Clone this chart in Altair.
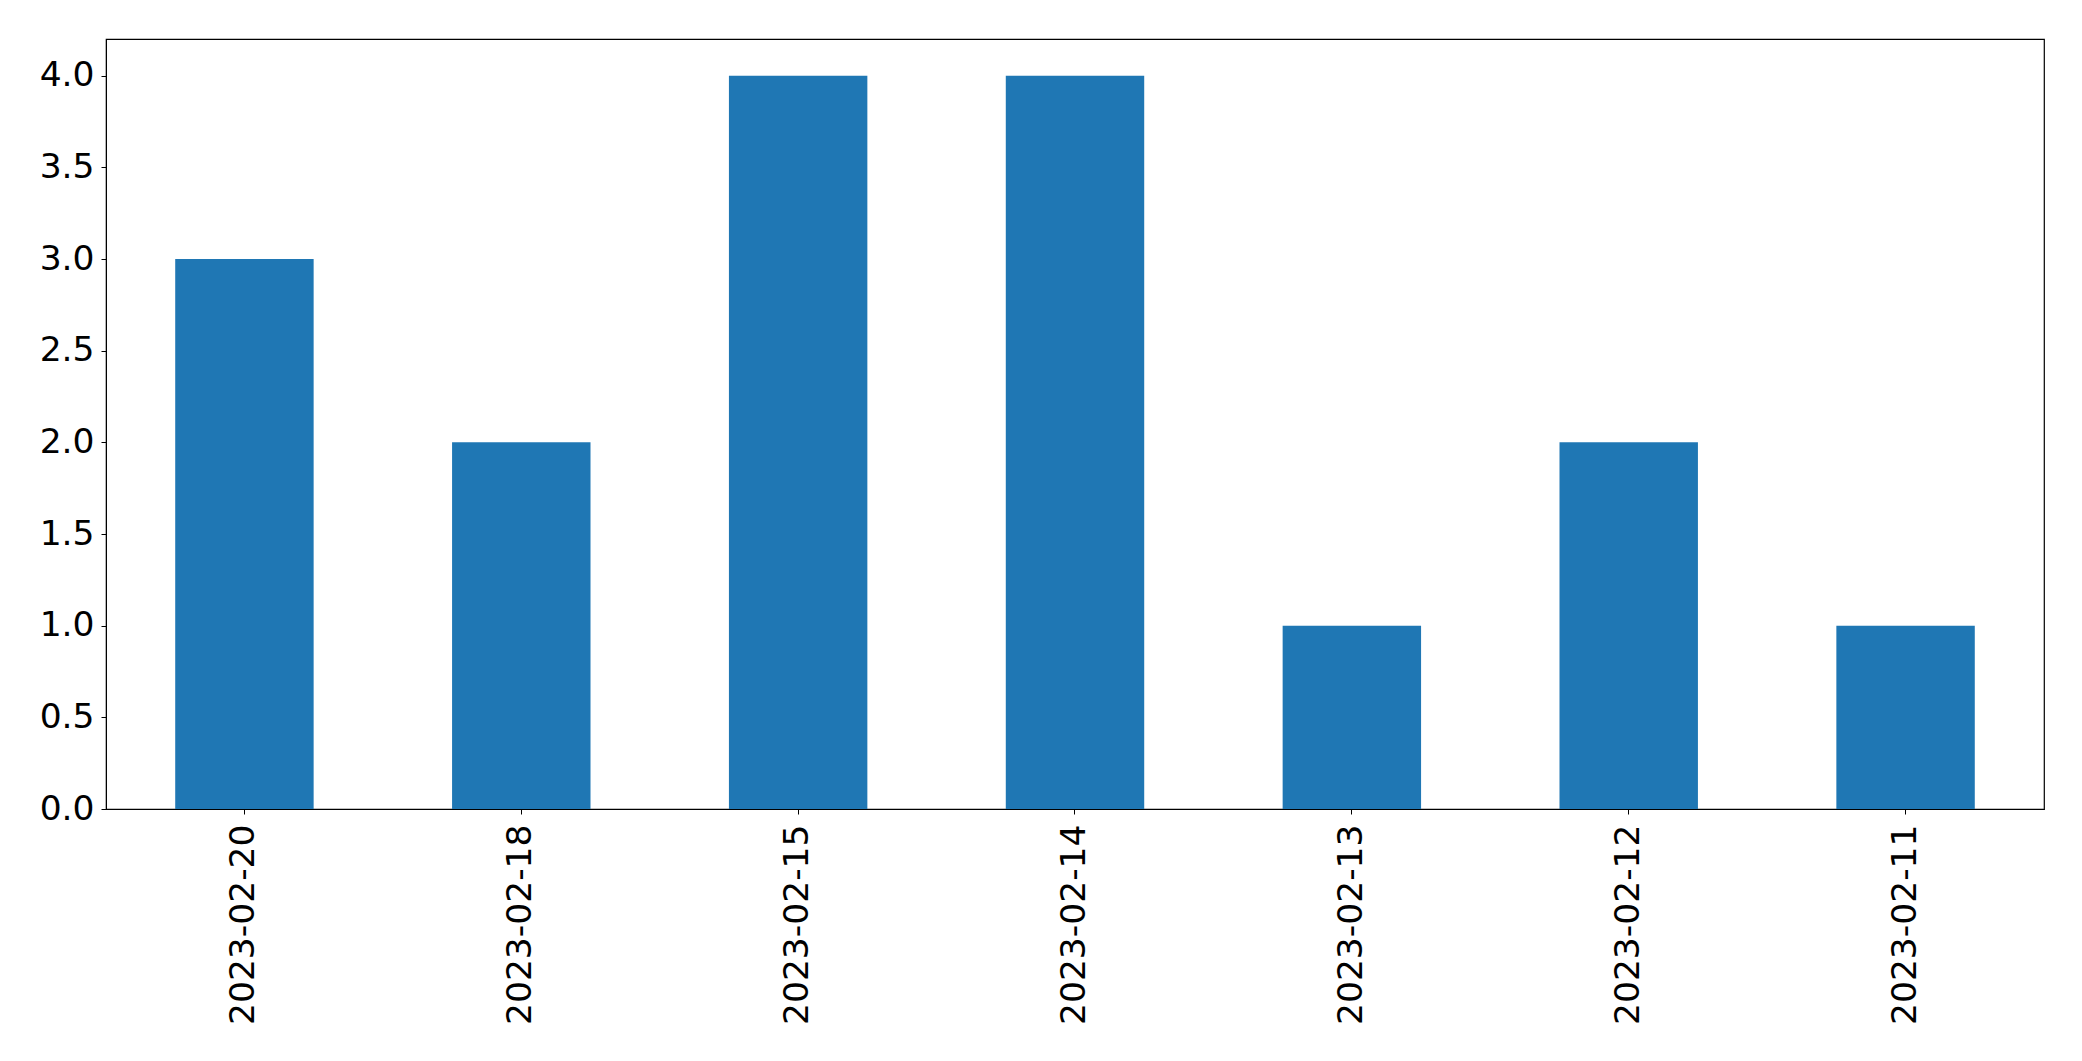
import altair as alt
import pandas as pd

dates = ["2023-02-20", "2023-02-18", "2023-02-15", "2023-02-14", "2023-02-13", "2023-02-12", "2023-02-11"]
counts = [3, 2, 4, 4, 1, 2, 1]
y_ticks = [0.0, 0.5, 1.0, 1.5, 2.0, 2.5, 3.0, 3.5, 4.0]

df = pd.DataFrame({"date": dates, "count": counts})

FONT = "DejaVu Sans"

chart = (
    alt.Chart(df)
    .mark_bar(color="#1f77b4")
    .encode(
        x=alt.X(
            "date:N",
            sort=dates,
            title=None,
            scale=alt.Scale(paddingInner=0.5, paddingOuter=0.25),
            axis=alt.Axis(
                labelAngle=270,
                labelFont=FONT,
                labelFontSize=34.5,
                labelColor="black",
                labelPadding=10,
                labelLimit=0,
                tickSize=5,
                tickColor="black",
                domainColor="black",
                grid=False,
            ),
        ),
        y=alt.Y(
            "count:Q",
            title=None,
            scale=alt.Scale(domain=[0, 4.2], nice=False),
            axis=alt.Axis(
                values=y_ticks,
                format=".1f",
                labelFont=FONT,
                labelFontSize=34.5,
                labelColor="black",
                labelPadding=7,
                tickSize=5,
                tickColor="black",
                domainColor="black",
                grid=False,
            ),
        ),
    )
    .properties(width=1938, height=770, padding={"left": 31, "top": 31, "right": 5, "bottom": 5})
    .configure_view(stroke="black", strokeWidth=1.2)
)

chart.save("out.html", embed_options={"renderer": "svg", "actions": False})
